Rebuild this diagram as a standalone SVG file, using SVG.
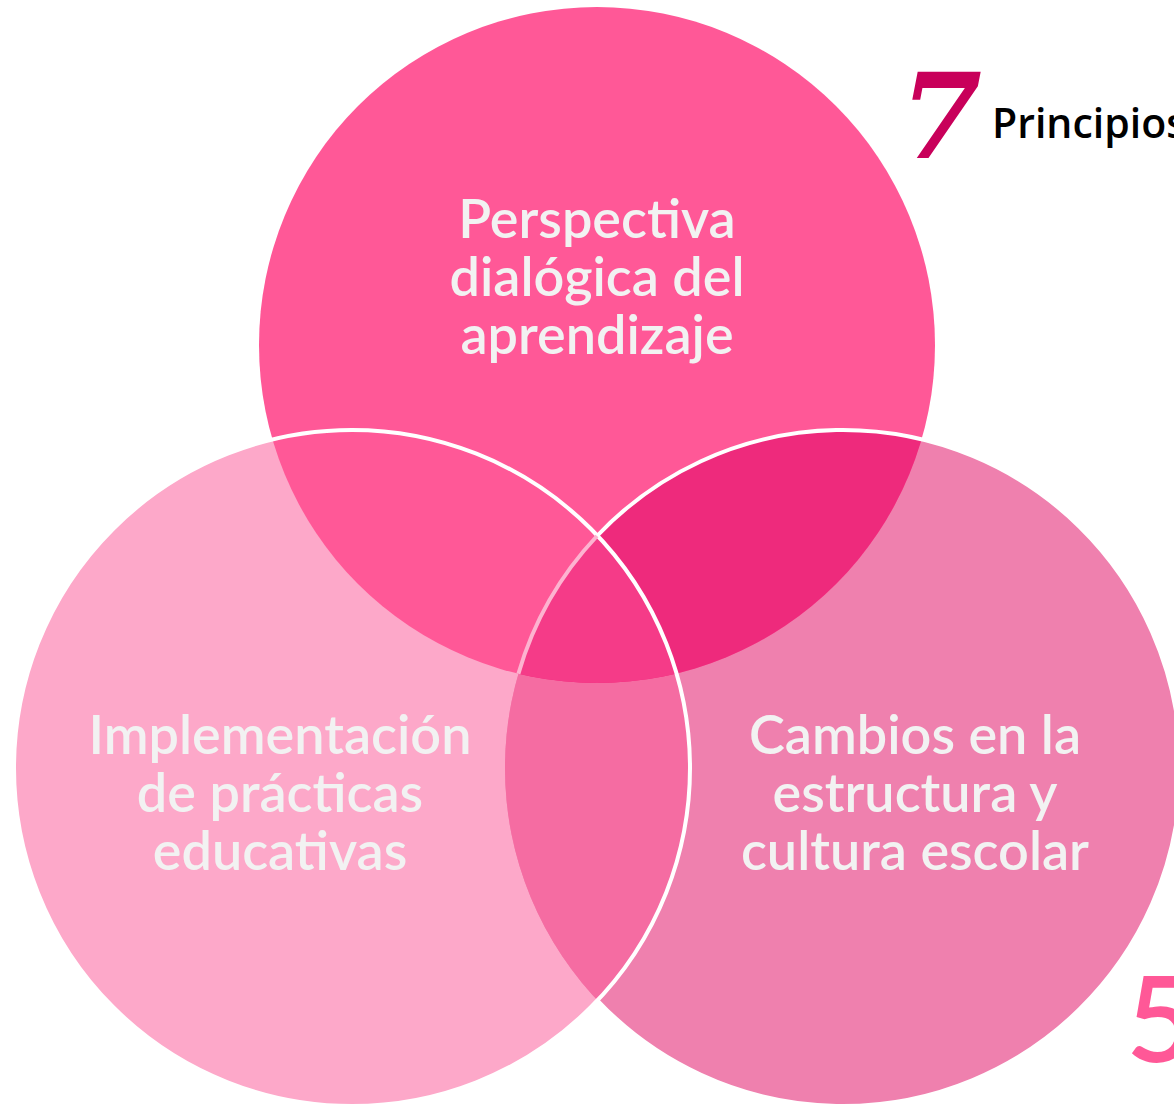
<svg xmlns="http://www.w3.org/2000/svg" width="1174" height="1107" viewBox="0 0 1174 1107">
<style>
.lbl{font-family:Lato,"Open Sans","DejaVu Sans",sans-serif;font-size:54px;font-weight:600;fill:#F2F2F2;text-anchor:middle}
</style>
<defs>
<clipPath id="cTop"><circle cx="597" cy="345" r="338"/></clipPath>
<clipPath id="cLeft"><circle cx="352" cy="768" r="338"/></clipPath>
<clipPath id="cRight"><circle cx="843" cy="768" r="338"/></clipPath>
</defs>
<rect width="1174" height="1107" fill="#FFFFFF"/>
<g id="shapes">
<circle id="left-circle" cx="352" cy="768" r="338" fill="#FDA8C9"/>
<circle id="right-circle" cx="843" cy="768" r="338" fill="#EF80AE"/>
<g clip-path="url(#cLeft)"><circle cx="843" cy="768" r="338" fill="#F56CA2"/></g>
<circle id="top-circle" cx="597" cy="345" r="338" fill="#FF5897"/>
<g clip-path="url(#cRight)"><circle cx="597" cy="345" r="338" fill="#EE2A7C"/></g>
<g clip-path="url(#cLeft)"><g clip-path="url(#cRight)"><circle cx="597" cy="345" r="338" fill="#F53B88"/></g></g>
</g>
<g id="connectors" fill="none">
<circle cx="352" cy="768" r="338" stroke="#FFFFFF" stroke-width="4"/>
<path d="M597,536 A338,338 0 1 1 597,1000" stroke="#FFFFFF" stroke-width="4"/>
<path d="M597,536 A338,338 0 0 0 518.4,673.7" stroke="#FDB3D0" stroke-width="4"/>
</g>
<g id="node-top">
<text class="lbl" x="597" y="238">Perspectiva</text>
<text class="lbl" x="597" y="296">dialógica del</text>
<text class="lbl" x="597" y="354">aprendizaje</text>
</g>
<g id="node-left">
<text class="lbl" x="280" y="754">Implementación</text>
<text class="lbl" x="280" y="812">de prácticas</text>
<text class="lbl" x="280" y="870">educativas</text>
</g>
<g id="node-right">
<text class="lbl" x="915" y="754">Cambios en la</text>
<text class="lbl" x="915" y="812">estructura y</text>
<text class="lbl" x="915" y="870">cultura escolar</text>
</g>
<g id="title">
<text x="900" y="158" font-family="'DejaVu Serif',serif" font-weight="bold" font-style="italic" font-size="118" fill="#C8005A">7</text>
<text x="992" y="138" font-family="'Open Sans','Noto Sans',sans-serif" font-weight="600" font-size="41" fill="#000000">Principios</text>
</g>
<text x="1126" y="1062" font-family="Lato,'Open Sans',sans-serif" font-weight="600" font-size="120" fill="#FF5897">5</text>
</svg>
